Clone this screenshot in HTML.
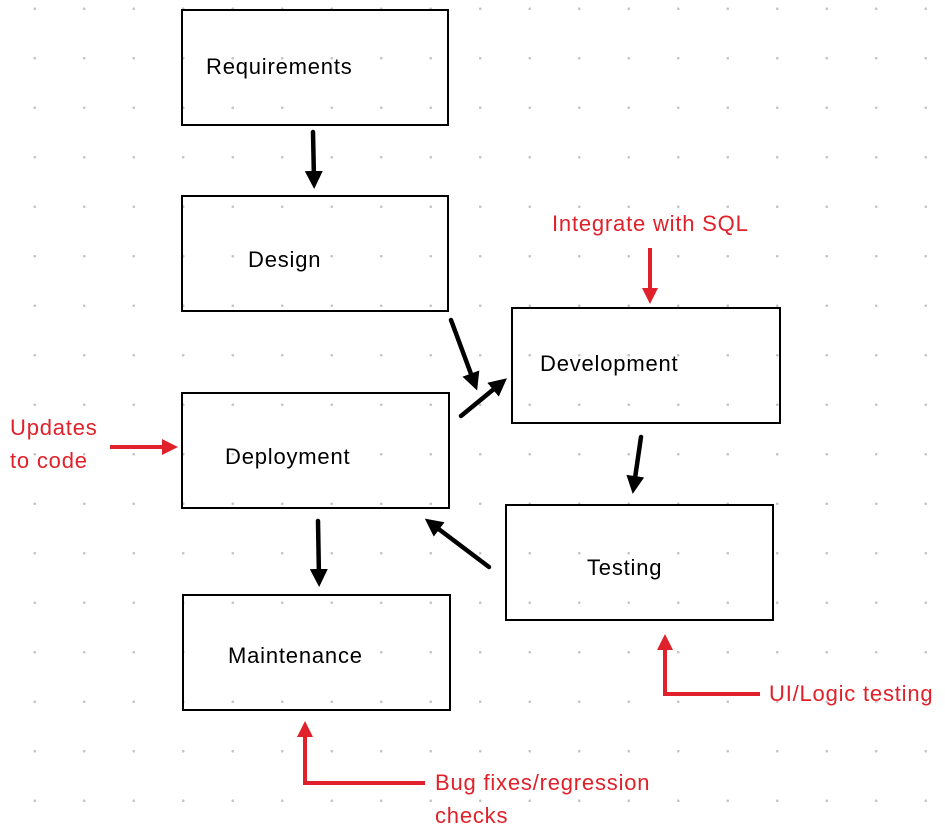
<!DOCTYPE html>
<html><head><style>
body{margin:0;width:945px;height:837px;background:#fff;position:relative;overflow:hidden;font-family:"Liberation Sans",sans-serif}
.bg{position:absolute;left:0;top:0;width:945px;height:837px;background-image:radial-gradient(circle,#c4c4c4 1.2px,transparent 1.5px);background-size:49.5px 49.5px;background-position:10px -16px}
.b{position:absolute;border:2.5px solid #000;background:transparent;box-sizing:border-box;font-size:22px;letter-spacing:0.8px;color:#000}
.b span{position:absolute;white-space:nowrap}
.r{position:absolute;color:#e0202a;font-size:22px;letter-spacing:0.8px;line-height:33px;white-space:nowrap}
svg{position:absolute;left:0;top:0}
</style></head><body>
<div class="bg"></div>
<div class="b" style="left:181px;top:9px;width:268px;height:117px"><span style="left:23px;top:43px">Requirements</span></div>
<div class="b" style="left:181px;top:195px;width:268px;height:117px"><span style="left:65px;top:50px">Design</span></div>
<div class="b" style="left:511px;top:307px;width:270px;height:117px"><span style="left:27px;top:42px">Development</span></div>
<div class="b" style="left:181px;top:392px;width:269px;height:117px"><span style="left:42px;top:50px">Deployment</span></div>
<div class="b" style="left:505px;top:504px;width:269px;height:117px"><span style="left:80px;top:49px">Testing</span></div>
<div class="b" style="left:182px;top:594px;width:269px;height:117px"><span style="left:44px;top:47px">Maintenance</span></div>
<div class="r" style="left:552px;top:207px">Integrate with SQL</div>
<div class="r" style="left:10px;top:411px">Updates<br>to code</div>
<div class="r" style="left:769px;top:677px">UI/Logic testing</div>
<div class="r" style="left:435px;top:766px">Bug fixes/regression<br>checks</div>
<svg width="945" height="837">
<defs>
<marker id="k" markerWidth="4" markerHeight="4" refX="2" refY="2" orient="auto"><path d="M0,0L4,2L0,4z" fill="#000"/></marker>
<marker id="rd" markerWidth="4" markerHeight="4" refX="2" refY="2" orient="auto"><path d="M0,0L4,2L0,4z" fill="#e0202a"/></marker>
</defs>
<g stroke="#000" stroke-width="4.5" fill="none" stroke-linecap="round">
<line x1="313" y1="132" x2="314" y2="180" marker-end="url(#k)"/>
<line x1="451" y1="320" x2="474" y2="382" marker-end="url(#k)"/>
<line x1="461" y1="416" x2="500" y2="384" marker-end="url(#k)"/>
<line x1="641" y1="437" x2="634" y2="485" marker-end="url(#k)"/>
<line x1="489" y1="567" x2="432" y2="524" marker-end="url(#k)"/>
<line x1="318" y1="521" x2="319" y2="578" marker-end="url(#k)"/>
</g>
<g stroke="#e0202a" stroke-width="4" fill="none">
<line x1="110" y1="447" x2="170" y2="447" marker-end="url(#rd)"/>
<line x1="650" y1="248" x2="650" y2="296" marker-end="url(#rd)"/>
<polyline points="760,694 665,694 665,642" marker-end="url(#rd)"/>
<polyline points="425,783 305,783 305,729" marker-end="url(#rd)"/>
</g>
</svg>
</body></html>
